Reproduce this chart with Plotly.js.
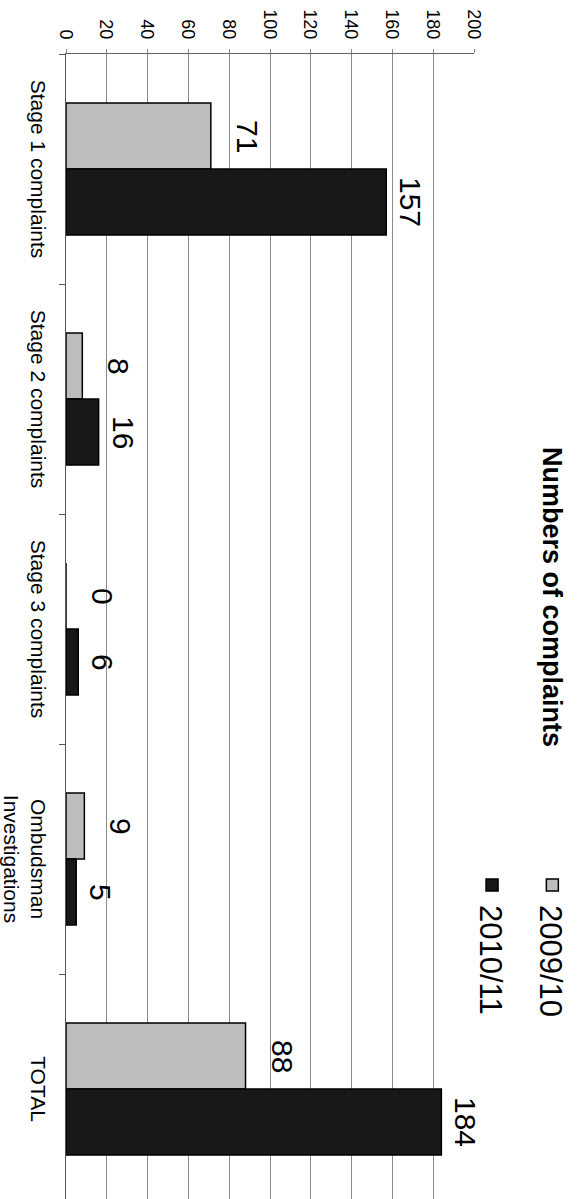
<!DOCTYPE html>
<html>
<head>
<meta charset="utf-8">
<script src="https://cdn.plot.ly/plotly-3.0.1.min.js"></script>
<style>
  html, body { margin: 0; padding: 0; width: 581px; height: 1199px; overflow: hidden; background: #fff; }
  #wrap { position: absolute; left: 0; top: 0; width: 1240px; height: 581px;
          transform-origin: 0 0; transform: translate(581px, 0) rotate(90deg); }
</style>
</head>
<body>
<div id="wrap"></div>
<script>
const categories = ['Stage 1 complaints', 'Stage 2 complaints', 'Stage 3 complaints', 'Ombudsman<br>Investigations', 'TOTAL'];
const seriesNames = ['2009/10', '2010/11'];
const values2009 = [71, 8, 0, 9, 88];
const values2010 = [157, 16, 6, 5, 184];
const valueTicks = [0, 20, 40, 60, 80, 100, 120, 140, 160, 180, 200];
const chartTitle = 'Numbers of complaints';

const W = 1240, H = 581;
const FONT = 'Liberation Sans, Arial, sans-serif';

const seriesValues = [values2009, values2010];
const colors = ['#bdbdbd', '#181818'];
const labelShift = [18, 6];
const xShift = [-33, 33];

const traces = seriesValues.map((vals, i) => ({
  type: 'bar',
  name: seriesNames[i],
  legendgroup: 'g' + i,
  x: categories,
  y: vals,
  marker: { color: colors[i], line: { color: '#000', width: 1.5 } },
  hoverinfo: 'none'
}));

const annotations = [];
seriesValues.forEach((vals, i) => {
  vals.forEach((v, j) => {
    annotations.push({
      x: categories[j], y: v, xref: 'x', yref: 'y',
      text: String(v), showarrow: false,
      xanchor: 'center', yanchor: 'bottom',
      xshift: xShift[i], yshift: labelShift[i],
      font: { family: FONT, size: 30, color: '#000' }
    });
  });
});

const layout = {
  width: W, height: H,
  margin: { l: 54, r: 36, t: 107, b: 66, autoexpand: false },
  paper_bgcolor: '#fff', plot_bgcolor: '#fff',
  font: { family: FONT, color: '#000' },
  title: {
    text: '<b>' + chartTitle + '</b>',
    font: { family: FONT, size: 27, color: '#000' },
    x: 597 / W, xref: 'container', xanchor: 'center',
    y: 1 - 29 / H, yref: 'container', yanchor: 'middle'
  },
  barmode: 'group',
  bargap: 0.426,
  bargroupgap: 0,
  showlegend: true,
  legend: {
    x: 865 / W, xref: 'container', xanchor: 'left',
    y: 1 - 2 / H, yref: 'container', yanchor: 'top',
    font: { family: FONT, size: 31, color: '#000' },
    tracegroupgap: 17,
    bgcolor: 'rgba(0,0,0,0)'
  },
  xaxis: {
    type: 'category',
    range: [-0.5, 4.5],
    tickson: 'boundaries',
    ticks: 'outside', ticklen: 6, tickcolor: '#555',
    showline: true, linecolor: '#555', linewidth: 1,
    showgrid: false, zeroline: false,
    tickangle: 0,
    automargin: false,
    tickfont: { family: FONT, size: 21, color: '#000' },
    ticklabelstandoff: 9
  },
  yaxis: {
    range: [0, 200],
    tickvals: valueTicks,
    ticktext: valueTicks.map(String),
    ticks: 'outside', ticklen: 4, tickcolor: '#888',
    showline: true, linecolor: '#666', linewidth: 1,
    showgrid: true, gridcolor: '#8c8c8c', gridwidth: 1,
    zeroline: false,
    automargin: false,
    tickfont: { family: FONT, size: 18, color: '#000' },
    ticklabelstandoff: 6
  },
  annotations: annotations
};

Plotly.newPlot('wrap', traces, layout, { staticPlot: true, displayModeBar: false });
</script>
</body>
</html>
